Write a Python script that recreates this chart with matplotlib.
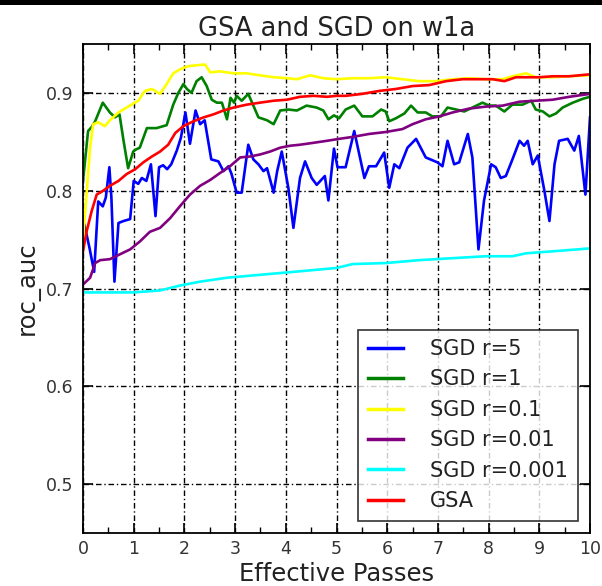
import matplotlib
matplotlib.use("Agg")
import matplotlib.pyplot as plt
from matplotlib.patches import Rectangle
from matplotlib.ticker import MultipleLocator

plt.rcParams['font.family'] = ['DejaVu Sans']

# ---- data ----
sgd5_x = [0.03, 0.13, 0.22, 0.30, 0.39, 0.45, 0.52, 0.56, 0.62, 0.70, 0.80, 0.93,
          1.00, 1.09, 1.16, 1.25, 1.34, 1.43, 1.50, 1.58, 1.66, 1.74, 1.85, 1.93,
          2.02, 2.11, 2.22, 2.31, 2.40, 2.53, 2.67, 2.77, 2.87, 2.93, 3.03, 3.13,
          3.26, 3.36, 3.46, 3.56, 3.63, 3.76, 3.83, 3.92, 4.05, 4.15, 4.28, 4.38,
          4.51, 4.61, 4.77, 4.84, 4.95, 5.02, 5.18, 5.35, 5.55, 5.64, 5.78, 5.94,
          6.04, 6.14, 6.24, 6.40, 6.57, 6.76, 6.99, 7.09, 7.19, 7.32, 7.42, 7.59,
          7.68, 7.80, 7.91, 8.05, 8.14, 8.24, 8.34, 8.47, 8.61, 8.70, 8.77, 8.87,
          8.97, 9.10, 9.20, 9.30, 9.39, 9.56, 9.69, 9.78, 9.91, 10.0]
sgd5_y = [0.765, 0.741, 0.717, 0.789, 0.784, 0.793, 0.824, 0.793, 0.707, 0.767, 0.769, 0.771,
          0.810, 0.807, 0.813, 0.810, 0.827, 0.774, 0.824, 0.826, 0.822, 0.827, 0.841, 0.854,
          0.880, 0.848, 0.882, 0.868, 0.872, 0.832, 0.830, 0.820, 0.825, 0.817, 0.798, 0.798,
          0.847, 0.832, 0.827, 0.820, 0.823, 0.798, 0.820, 0.840, 0.803, 0.762, 0.813, 0.830,
          0.813, 0.806, 0.815, 0.790, 0.843, 0.824, 0.824, 0.861, 0.813, 0.825, 0.825, 0.839,
          0.803, 0.827, 0.823, 0.844, 0.853, 0.834, 0.829, 0.825, 0.851, 0.827, 0.829, 0.858,
          0.834, 0.740, 0.790, 0.827, 0.824, 0.813, 0.815, 0.832, 0.851, 0.846, 0.851, 0.827,
          0.836, 0.800, 0.769, 0.827, 0.851, 0.853, 0.841, 0.856, 0.796, 0.875]

sgd1_x = [0.0, 0.10, 0.17, 0.24, 0.39, 0.53, 0.63, 0.72, 0.80, 0.89, 0.99, 1.04,
          1.12, 1.26, 1.45, 1.65, 1.78, 1.88, 1.98, 2.05, 2.14, 2.24, 2.34, 2.44,
          2.54, 2.64, 2.74, 2.84, 2.91, 2.98, 3.03, 3.13, 3.26, 3.36, 3.46, 3.63,
          3.76, 3.89, 4.05, 4.22, 4.41, 4.61, 4.74, 4.84, 4.95, 5.05, 5.18, 5.35,
          5.51, 5.71, 5.88, 5.97, 6.04, 6.17, 6.34, 6.47, 6.60, 6.76, 6.89, 7.06,
          7.19, 7.36, 7.52, 7.68, 7.88, 8.01, 8.14, 8.31, 8.47, 8.67, 8.84, 8.93,
          9.07, 9.20, 9.33, 9.46, 9.66, 9.86, 10.0]
sgd1_y = [0.810, 0.861, 0.865, 0.871, 0.890, 0.880, 0.875, 0.878, 0.851, 0.823, 0.840, 0.842,
          0.844, 0.864, 0.864, 0.867, 0.888, 0.900, 0.909, 0.904, 0.900, 0.912, 0.916, 0.907,
          0.893, 0.890, 0.890, 0.873, 0.895, 0.890, 0.897, 0.892, 0.899, 0.887, 0.875, 0.872,
          0.868, 0.882, 0.883, 0.882, 0.887, 0.885, 0.882, 0.873, 0.877, 0.874, 0.883, 0.887,
          0.876, 0.876, 0.883, 0.881, 0.871, 0.874, 0.879, 0.887, 0.880, 0.880, 0.876, 0.876,
          0.885, 0.883, 0.881, 0.885, 0.890, 0.887, 0.887, 0.881, 0.888, 0.888, 0.892, 0.883,
          0.881, 0.876, 0.879, 0.885, 0.890, 0.894, 0.896]

sgd01_x = [0.0, 0.07, 0.14, 0.20, 0.30, 0.43, 0.53, 0.70, 0.86, 0.99, 1.09, 1.22,
           1.36, 1.52, 1.65, 1.78, 1.91, 2.05, 2.18, 2.41, 2.51, 2.70, 2.97, 3.23,
           3.49, 3.76, 4.02, 4.22, 4.48, 4.74, 5.00, 5.32, 5.64, 5.97, 6.30, 6.63,
           6.96, 7.29, 7.62, 7.95, 8.28, 8.47, 8.74, 8.93, 9.26, 9.59, 10.0]
sgd01_y = [0.750, 0.796, 0.844, 0.868, 0.870, 0.866, 0.872, 0.880, 0.885, 0.889, 0.892, 0.902,
           0.904, 0.899, 0.909, 0.920, 0.924, 0.927, 0.928, 0.929, 0.921, 0.922, 0.920, 0.920,
           0.918, 0.916, 0.915, 0.914, 0.918, 0.915, 0.914, 0.915, 0.915, 0.916, 0.914, 0.912,
           0.912, 0.914, 0.915, 0.914, 0.914, 0.917, 0.920, 0.916, 0.916, 0.917, 0.918]

sgd001_x = [0.0, 0.14, 0.24, 0.34, 0.53, 0.73, 0.93, 1.12, 1.32, 1.52, 1.72, 1.91,
            2.11, 2.31, 2.51, 2.70, 2.90, 3.10, 3.30, 3.49, 3.69, 3.89, 4.09, 4.28,
            4.55, 4.81, 5.05, 5.32, 5.64, 5.97, 6.30, 6.50, 6.76, 7.03, 7.29, 7.62,
            7.95, 8.28, 8.61, 8.93, 9.26, 9.59, 10.0]
sgd001_y = [0.704, 0.711, 0.726, 0.729, 0.730, 0.735, 0.740, 0.748, 0.758, 0.762, 0.772, 0.784,
            0.796, 0.805, 0.811, 0.818, 0.825, 0.834, 0.835, 0.837, 0.840, 0.844, 0.846, 0.847,
            0.849, 0.851, 0.853, 0.855, 0.858, 0.860, 0.863, 0.868, 0.873, 0.876, 0.880, 0.884,
            0.886, 0.887, 0.891, 0.892, 0.893, 0.896, 0.899]

sgd0001_x = [0.0, 1.0, 1.52, 1.91, 2.31, 2.84, 3.49, 4.15, 5.00, 5.32, 5.97, 6.63,
             7.29, 7.95, 8.47, 8.74, 9.26, 10.0]
sgd0001_y = [0.696, 0.696, 0.698, 0.703, 0.707, 0.711, 0.714, 0.717, 0.721, 0.725, 0.726, 0.729,
             0.731, 0.733, 0.733, 0.736, 0.738, 0.741]

gsa_x = [0.0, 0.07, 0.17, 0.27, 0.40, 0.53, 0.70, 0.86, 1.03, 1.19, 1.36, 1.52,
         1.68, 1.82, 1.98, 2.18, 2.38, 2.57, 2.77, 2.97, 3.23, 3.49, 3.76, 4.02,
         4.28, 4.55, 4.81, 5.00, 5.18, 5.51, 5.84, 6.17, 6.50, 6.83, 7.16, 7.49,
         7.82, 8.08, 8.31, 8.54, 8.74, 9.00, 9.26, 9.59, 10.0]
gsa_y = [0.738, 0.758, 0.779, 0.796, 0.800, 0.805, 0.810, 0.817, 0.822, 0.829, 0.835, 0.840,
         0.847, 0.859, 0.866, 0.871, 0.875, 0.878, 0.882, 0.885, 0.888, 0.890, 0.892, 0.893,
         0.896, 0.897, 0.896, 0.897, 0.897, 0.899, 0.902, 0.904, 0.907, 0.908, 0.912, 0.914,
         0.914, 0.914, 0.912, 0.916, 0.916, 0.916, 0.917, 0.917, 0.919]

labels = ["SGD r=5", "SGD r=1", "SGD r=0.1", "SGD r=0.01", "SGD r=0.001", "GSA"]
colors = ["blue", "green", "yellow", "purple", "cyan", "red"]
series = [(sgd5_x, sgd5_y), (sgd1_x, sgd1_y), (sgd01_x, sgd01_y),
          (sgd001_x, sgd001_y), (sgd0001_x, sgd0001_y), (gsa_x, gsa_y)]
xticks = [0, 1, 2, 3, 4, 5, 6, 7, 8, 9, 10]
yticks = [0.5, 0.6, 0.7, 0.8, 0.9]

fig = plt.figure(figsize=(6.02, 5.86), dpi=100)
ax = fig.add_axes([83/602, 1-533/586, (590-83)/602, (533-44)/586])

for (xs, ys), lab, col in zip(series, labels, colors):
    ax.plot(xs, ys, color=col, lw=1.9, label=lab)

ax.set_xlim(0, 10)
ax.set_ylim(0.45, 0.95)
ax.set_xticks(xticks)
ax.set_xticklabels([str(t) for t in xticks])
ax.set_yticks(yticks)
ax.set_yticklabels([f"{t:.1f}" for t in yticks])
ax.xaxis.set_minor_locator(MultipleLocator(0.5))

ax.tick_params(which='both', direction='in', top=True, right=True, colors='black',
               labelcolor='#333333', labelsize=12.5)
ax.tick_params(which='major', length=7, width=1.2)
ax.tick_params(axis='x', which='major', pad=5)
ax.tick_params(axis='y', which='major', pad=7)
ax.tick_params(which='minor', length=4, width=1.0)
for s in ax.spines.values():
    s.set_linewidth(1.3)

ax.grid(True, which='major', color='black', lw=1.0, linestyle=(0, (4, 2, 1, 2)))

ax.set_title("GSA and SGD on w1a", fontsize=18.5, color='#222222', pad=6)
ax.set_xlabel("Effective Passes", fontsize=17.5, color='#222222', labelpad=3)
ax.set_ylabel("roc_auc", fontsize=17.5, color='#222222', labelpad=4)

leg = ax.legend(loc='lower right', fontsize=15, frameon=True, fancybox=False,
                edgecolor='black', handlelength=1.7, labelspacing=0.5,
                borderaxespad=0.6, handletextpad=1.3, borderpad=0.45)
leg.get_frame().set_linewidth(1.2)
for t in leg.get_texts():
    t.set_color('#222222')
for h in leg.get_lines():
    h.set_linewidth(2.5)

fig.add_artist(Rectangle((0, 1-5/586), 1, 5/586, transform=fig.transFigure,
                         color='black', lw=0))

fig.savefig("out.png", dpi=100)
